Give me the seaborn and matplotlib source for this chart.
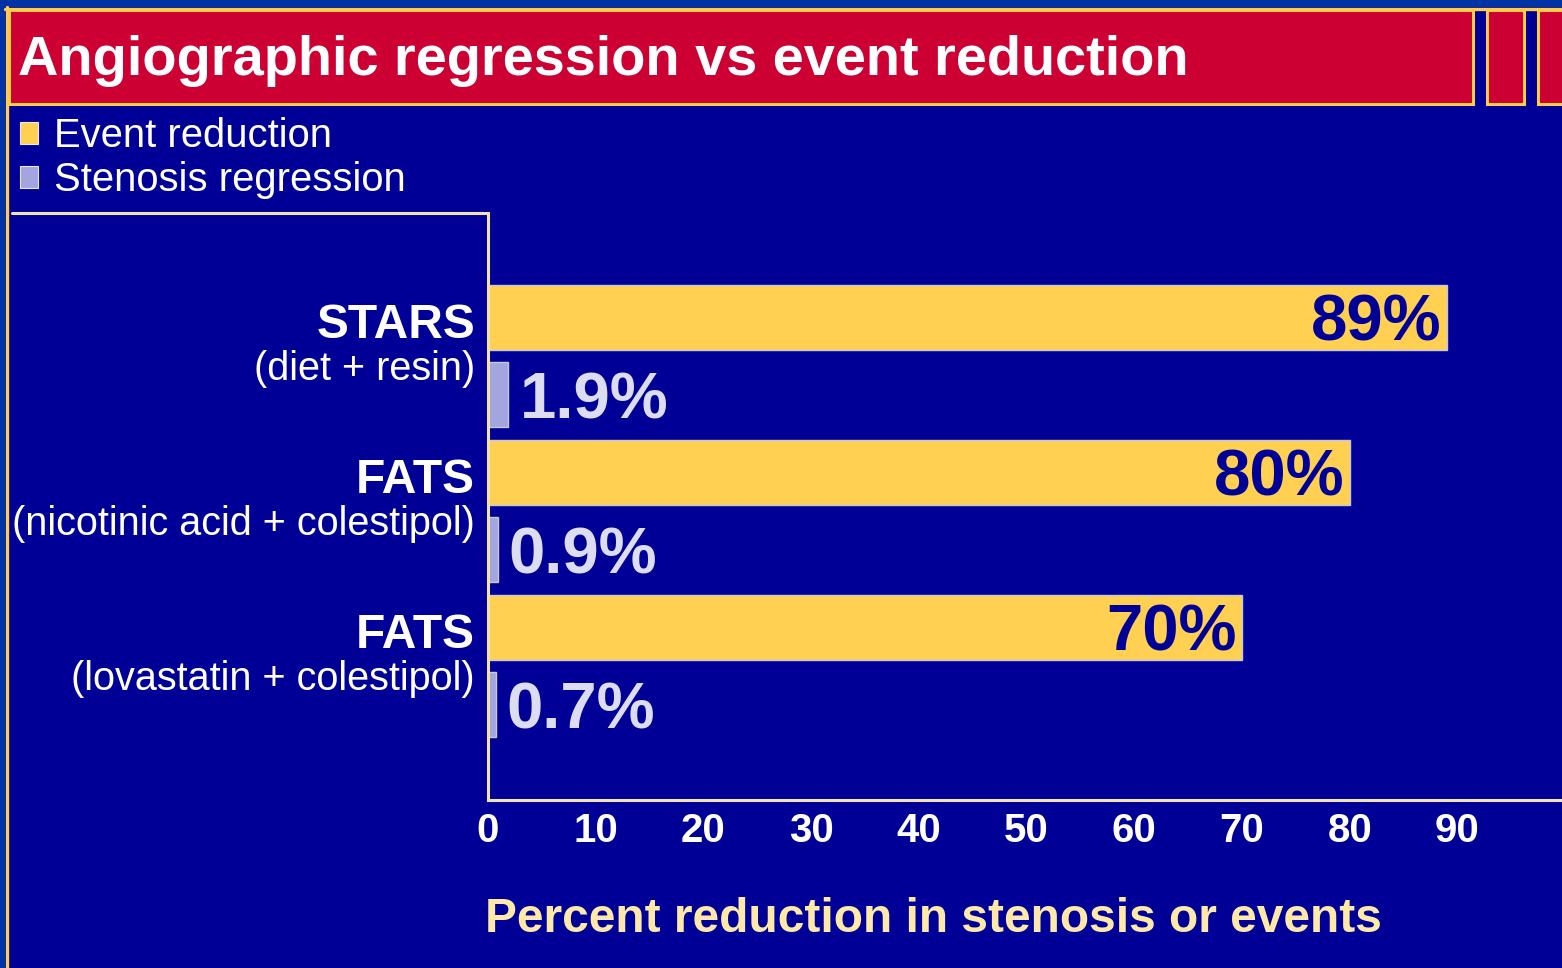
import matplotlib
matplotlib.use("Agg")
import matplotlib.pyplot as plt
import matplotlib.patches as mpatches
from matplotlib.lines import Line2D
import seaborn as sns
import pandas as pd

# ---- data -------------------------------------------------------------
trials = ["STARS", "FATS", "FATS "]
regimens = ["(diet + resin)", "(nicotinic acid + colestipol)", "(lovastatin + colestipol)"]
event_reduction = [89, 80, 70]
stenosis_regression = [1.9, 0.9, 0.7]
measures = ["Event reduction", "Stenosis regression"]
x_ticks = [0, 10, 20, 30, 40, 50, 60, 70, 80, 90]

# ---- colours ----------------------------------------------------------
NAVY = "#000096"
OUTER = "#0033A3"
RED = "#CC0033"
GOLD = "#FFCC4D"
BAR_YELLOW = "#FFD052"
BAR_LAV = "#A3A6DE"
SPINE = "#F2E2B0"
LABEL_LAV = "#DCDCF2"
XLABEL = "#FFE9A8"

df = pd.DataFrame({
    "trial": trials * 2,
    "measure": [measures[0]] * 3 + [measures[1]] * 3,
    "value": event_reduction + stenosis_regression,
})

sns.set_theme(style="white")
plt.rcParams["font.family"] = ["Liberation Sans", "DejaVu Sans"]

W, H = 1562, 968
fig = plt.figure(figsize=(W / 100, H / 100), dpi=100)
fig.patch.set_facecolor(OUTER)


def fx(px):
    return px / W


def fy(py):
    return 1 - py / H


# inner panel and frame lines
fig.patches.append(mpatches.Rectangle((fx(5), 0), 1, fy(7), transform=fig.transFigure,
                                      facecolor=NAVY, edgecolor="none", zorder=-5))
fig.lines.append(Line2D([fx(5), 1], [fy(8.5), fy(8.5)], transform=fig.transFigure,
                        color=GOLD, lw=2.4, zorder=1))
fig.lines.append(Line2D([fx(6.5), fx(6.5)], [0, fy(7)], transform=fig.transFigure,
                        color=GOLD, lw=2.4, zorder=1))

# title bar with the small boxes at its right end
for x0, x1 in [(9, 1473), (1487, 1524), (1538, 1600)]:
    fig.patches.append(mpatches.Rectangle((fx(x0), fy(104)), fx(x1 - x0), fy(10) - fy(104),
                                          transform=fig.transFigure, facecolor=RED,
                                          edgecolor=GOLD, lw=2.2, zorder=2))
fig.text(fx(18), fy(75), "Angiographic regression vs event reduction", color="white",
         fontsize=40.3, fontweight="bold", ha="left", va="baseline", zorder=3)

# legend
leg_handles = [mpatches.Patch(facecolor=c, edgecolor="#E8E8F0", lw=0.8)
               for c in (BAR_YELLOW, BAR_LAV)]
fig.legend(leg_handles, measures, loc="upper left", bbox_to_anchor=(fx(4), fy(101)),
           frameon=False, fontsize=28.8, labelcolor="white", handlelength=0.45,
           handleheight=0.45, handletextpad=0.4, labelspacing=0.16, borderaxespad=0)

# ---- bar chart ----------------------------------------------------------
ax_l, ax_t, ax_b = 488, 213, 800
ax = fig.add_axes([fx(ax_l), fy(ax_b), 1 - fx(ax_l) + 0.002, fy(ax_t) - fy(ax_b)])
ax.set_facecolor("none")
ax.set_zorder(4)

sns.barplot(data=df, y="trial", x="value", hue="measure", orient="h", ax=ax,
            palette=[BAR_YELLOW, BAR_LAV], saturation=1, width=1.0, gap=0.16,
            legend=False, edgecolor="#C8C8E0", linewidth=1.0)

ax.set_xlim(0, 100)
ax.set_ylim(2.8645, -0.9226)
ax.set_xticks(x_ticks)
ax.set_xticklabels([str(t) for t in x_ticks])
ax.tick_params(axis="x", length=0, pad=9, labelsize=29, labelcolor="white")
for lbl in ax.get_xticklabels():
    lbl.set_fontweight("bold")
ax.set_yticks([])
ax.set_ylabel("")

for side in ("top", "right"):
    ax.spines[side].set_visible(False)
for side in ("left", "bottom"):
    ax.spines[side].set_color(SPINE)
    ax.spines[side].set_linewidth(2.2)

# top rule of the label area, joining the left spine
fig.lines.append(Line2D([fx(12), fx(ax_l)], [fy(ax_t), fy(ax_t)], transform=fig.transFigure,
                        color=SPINE, lw=2.2, zorder=3))

ax.set_xlabel("Percent reduction in stenosis or events", fontsize=34.5, fontweight="bold",
              color=XLABEL, va="center")
ax.xaxis.set_label_coords((932 - ax_l) / (W - ax_l), -(920 - ax_b) / (ax_b - ax_t))

# value labels drawn from the same values as the bars
ytr = ax.get_yaxis_transform()
for i, (ev, st) in enumerate(zip(event_reduction, stenosis_regression)):
    ax.annotate(f"{ev}%", xy=(ev, i - 0.25), xytext=(-4, -17), textcoords="offset points",
                ha="right", va="baseline", fontsize=47, fontweight="bold", color=NAVY)
    ax.annotate(f"{st}%", xy=(st, i + 0.25), xytext=(8, -17), textcoords="offset points",
                ha="left", va="baseline", fontsize=47, fontweight="bold", color=LABEL_LAV)
    ax.text(-0.0121, i - 0.20, trials[i].strip(), transform=ytr, ha="right", va="center",
            fontsize=34.5, fontweight="bold", color="white", clip_on=False)
    ax.text(-0.0121, i + 0.083, regimens[i], transform=ytr, ha="right", va="center",
            fontsize=28.5, color="white", clip_on=False)

fig.savefig("out.png", dpi=100, facecolor=fig.get_facecolor())
